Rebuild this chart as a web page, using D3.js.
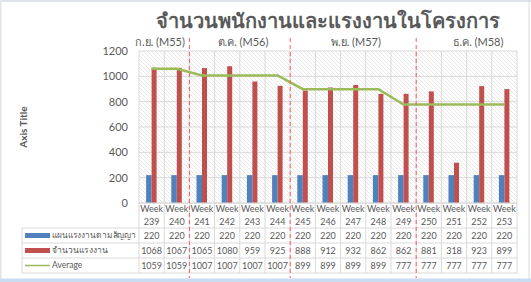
<!DOCTYPE html>
<html><head><meta charset="utf-8">
<script src="https://cdn.jsdelivr.net/npm/d3@7"></script>
<style>
html,body{margin:0;padding:0;background:#fff;}
svg{display:block;}
text{font-family:Lato,"Noto Sans","DejaVu Sans",sans-serif;fill:#595959;}
</style></head>
<body>
<svg id="c" width="531" height="282"></svg>
<script>
const weeks = ["239","240","241","242","243","244","245","246","247","248","249","250","251","252","253"];
const planValues = [220,220,220,220,220,220,220,220,220,220,220,220,220,220,220];
const actualValues = [1068,1067,1065,1080,959,925,888,912,932,862,862,881,318,923,899];
const averageValues = [1059,1059,1007,1007,1007,1007,899,899,899,899,777,777,777,777,777];
const seriesNames = ["แผนแรงงานตามสัญญา","จำนวนแรงงาน","Average"];
const monthLabels = ["ก.ย. (M55)","ต.ค. (M56)","พ.ย. (M57)","ธ.ค. (M58)"];
const monthStartIdx = [2,6,11]; // boundaries before these weeks
const yTicks = [0,200,400,600,800,1000,1200];
const titleText = "จำนวนพนักงานและแรงงานในโครงการ";
const axisTitle = "Axis Title";

// layout
const L = 139, R = 517, T = 51, B = 203;
const monthLabelX = [160,243,356,478];
const colors = {plan:"#4f81bd", actual:"#c0504d", avg:"#9bbb59", grid:"#d9d9d9", text:"#595959"};

const svg = d3.select("#c");
// frame
svg.append("rect").attr("x",0).attr("y",0).attr("width",531).attr("height",2).attr("fill","#dfe3e8");
svg.append("rect").attr("x",0).attr("y",0).attr("width",1.5).attr("height",282).attr("fill","#e3e3e3");
svg.append("rect").attr("x",528.5).attr("y",0).attr("width",1).attr("height",279).attr("fill","#d9d9d9");
svg.append("rect").attr("x",0).attr("y",278.5).attr("width",531).attr("height",4).attr("fill","#c9dcf0");

const defs = svg.append("defs");
const pat = defs.append("pattern").attr("id","hatch").attr("patternUnits","userSpaceOnUse")
  .attr("width",4).attr("height",4);
pat.append("rect").attr("width",4).attr("height",4).attr("fill","#fff");
pat.append("path").attr("d","M-1,-1 L5,5 M-1,3 L1,5 M3,-1 L5,1").attr("stroke","#e9e9e9").attr("stroke-width",1);

const x = d3.scaleBand().domain(weeks).range([L,R]).paddingInner(0).paddingOuter(0);
const y = d3.scaleLinear().domain([0,1200]).range([B,T]);
const bw = x.bandwidth();
const xs = d3.scaleBand().domain(["plan","actual"]).range([bw/2-5.5, bw/2+5.5]);

// plot background
svg.append("rect").attr("x",L).attr("y",T).attr("width",R-L).attr("height",B-T).attr("fill","url(#hatch)");

// gridlines
svg.append("g").selectAll("line").data(yTicks).join("line")
  .attr("x1",L).attr("x2",R).attr("y1",d=>y(d)).attr("y2",d=>y(d))
  .attr("stroke",colors.grid).attr("stroke-width",1);
// vertical category lines (plot + table)
const bounds = weeks.map(w=>x(w)).concat([R]);
svg.append("g").selectAll("line").data(bounds).join("line")
  .attr("x1",d=>d).attr("x2",d=>d).attr("y1",T).attr("y2",273)
  .attr("stroke",colors.grid).attr("stroke-width",1);

// y tick labels
svg.append("g").selectAll("text").data(yTicks).join("text")
  .attr("x",128).attr("y",d=>y(d)).attr("dy","0.35em").attr("text-anchor","end")
  .attr("font-size",11).text(d=>d);

// bars
svg.append("g").selectAll("rect").data(planValues).join("rect")
  .attr("x",(d,i)=>x(weeks[i])+xs("plan")).attr("width",xs.bandwidth())
  .attr("y",d=>y(d)).attr("height",d=>y(0)-y(d)).attr("fill",colors.plan);
svg.append("g").selectAll("rect").data(actualValues).join("rect")
  .attr("x",(d,i)=>x(weeks[i])+xs("actual")).attr("width",xs.bandwidth()-0.5)
  .attr("y",d=>y(d)).attr("height",d=>y(0)-y(d)).attr("fill",colors.actual);

// average line
const line = d3.line().x((d,i)=>x(weeks[i])+bw/2).y(d=>y(d));
svg.append("path").datum(averageValues).attr("d",line).attr("fill","none")
  .attr("stroke",colors.avg).attr("stroke-width",2.5);

// title
svg.append("text").attr("x",328).attr("y",28).attr("text-anchor","middle")
  .attr("font-size",20).attr("font-weight","bold").text(titleText);
// axis title
svg.append("text").attr("transform","translate(27,127) rotate(-90)").attr("text-anchor","middle")
  .attr("font-size",10).attr("font-weight","bold").text(axisTitle);

// month labels
svg.append("g").selectAll("text").data(monthLabels).join("text")
  .attr("x",(d,i)=>monthLabelX[i]).attr("y",46).attr("text-anchor","middle")
  .attr("font-size",11).attr("fill","#404040").text(d=>d);

// table
const rowLines = [228,243,258,273];
svg.append("g").selectAll("line").data(rowLines).join("line")
  .attr("x1",22).attr("x2",R).attr("y1",d=>d).attr("y2",d=>d)
  .attr("stroke",colors.grid);
svg.append("line").attr("x1",22).attr("x2",22).attr("y1",228).attr("y2",273).attr("stroke",colors.grid);
svg.append("line").attr("x1",L).attr("x2",R).attr("y1",B).attr("y2",B).attr("stroke",colors.grid);

const hdr = svg.append("g").selectAll("g").data(weeks).join("g");
hdr.append("text").attr("x",d=>x(d)+bw/2).attr("y",212).attr("text-anchor","middle").attr("font-size",9).text("Week");
hdr.append("text").attr("x",d=>x(d)+bw/2).attr("y",224.5).attr("text-anchor","middle").attr("font-size",9).text(d=>d);

const rows = [planValues, actualValues, averageValues];
const rowY = [235.5,250.5,265.5];
rows.forEach((vals,r)=>{
  svg.append("g").selectAll("text").data(vals).join("text")
    .attr("x",(d,i)=>x(weeks[i])+bw/2).attr("y",rowY[r]).attr("dy","0.35em")
    .attr("text-anchor","middle").attr("font-size",9).text(d=>d);
});
// legend keys
svg.append("rect").attr("x",25).attr("y",rowY[0]-2.5).attr("width",25).attr("height",5).attr("fill",colors.plan);
svg.append("rect").attr("x",25).attr("y",rowY[1]-2.5).attr("width",25).attr("height",5).attr("fill",colors.actual);
svg.append("line").attr("x1",25).attr("x2",50).attr("y1",rowY[2]).attr("y2",rowY[2]).attr("stroke",colors.avg).attr("stroke-width",1.5);
svg.append("g").selectAll("text").data(seriesNames).join("text")
  .attr("x",52).attr("y",(d,i)=>rowY[i]).attr("dy","0.35em").attr("font-size",8.5)
  .each(function(d){ d3.select(this).text(d); const w=this.getComputedTextLength(); if(w>84) d3.select(this).attr("textLength",84).attr("lengthAdjust","spacingAndGlyphs"); });

// red dashed month separators
svg.append("g").selectAll("line").data(monthStartIdx).join("line")
  .attr("x1",d=>x(weeks[d])).attr("x2",d=>x(weeks[d])).attr("y1",38).attr("y2",278)
  .attr("stroke","#ff5b5b").attr("stroke-width",1).attr("stroke-dasharray","4,3");
</script>
</body></html>
